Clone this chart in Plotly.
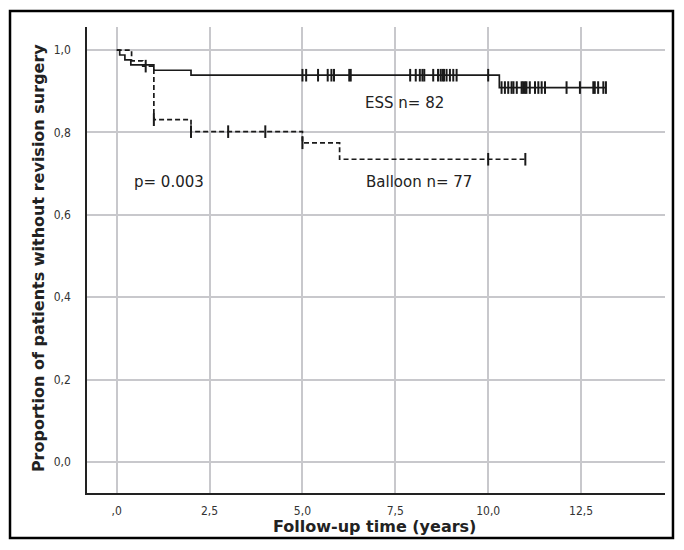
import numpy as np
import plotly.graph_objects as go

# ---- data ----
ess_times = [0, 0.08, 0.22, 0.38, 1.0, 2.0, 10.3, 13.17]
ess_surv = [1.0, 0.988, 0.976, 0.964, 0.951, 0.939, 0.909, 0.909]
ess_censor = [5.0, 5.1, 5.42, 5.68, 5.78, 5.85, 6.26, 6.3, 7.9, 8.05, 8.16, 8.23,
              8.28, 8.52, 8.65, 8.72, 8.77, 8.81, 8.88, 8.97, 9.06, 9.15, 10.0,
              10.36, 10.45, 10.54, 10.63, 10.68, 10.77, 10.9, 10.94, 10.99, 11.03,
              11.12, 11.26, 11.35, 11.44, 11.53, 12.11, 12.47, 12.83, 12.87, 12.96,
              13.1, 13.17]

bal_times = [0, 0.4, 0.7, 1.0, 2.0, 5.0, 6.0, 11.0]
bal_surv = [1.0, 0.974, 0.961, 0.831, 0.802, 0.775, 0.735, 0.735]
bal_censor = [0.78, 1.0, 2.0, 3.0, 4.0, 5.0, 10.0, 11.0]

x_ticks = [0, 2.5, 5, 7.5, 10, 12.5]
x_ticklabels = [",0", "2,5", "5,0", "7,5", "10,0", "12,5"]
y_ticks = [0, 0.2, 0.4, 0.6, 0.8, 1.0]
y_ticklabels = ["0,0", "0,2", "0,4", "0,6", "0,8", "1,0"]


def step_value(times, surv, t):
    idx = np.searchsorted(np.array(times), t, side="right") - 1
    return [surv[i] for i in idx]


LINE_COLOR = "#1a1a1a"
FONT = "DejaVu Sans"
TICKFONT = "DejaVu Sans Condensed, DejaVu Sans"

fig = go.Figure()

fig.add_trace(go.Scatter(x=ess_times, y=ess_surv, mode="lines", line_shape="hv",
                         line=dict(color=LINE_COLOR, width=1.7), showlegend=False,
                         hoverinfo="skip"))
fig.add_trace(go.Scatter(x=ess_censor, y=step_value(ess_times, ess_surv, ess_censor),
                         mode="markers",
                         marker=dict(symbol="line-ns-open", size=9, color=LINE_COLOR,
                                     line=dict(color=LINE_COLOR, width=2)),
                         showlegend=False))

fig.add_trace(go.Scatter(x=bal_times, y=bal_surv, mode="lines", line_shape="hv",
                         line=dict(color=LINE_COLOR, width=1.7, dash="5px,3px"),
                         showlegend=False, hoverinfo="skip"))
fig.add_trace(go.Scatter(x=bal_censor, y=step_value(bal_times, bal_surv, bal_censor),
                         mode="markers",
                         marker=dict(symbol="line-ns-open", size=9, color=LINE_COLOR,
                                     line=dict(color=LINE_COLOR, width=2)),
                         showlegend=False))

grid_color = "#c8c8cc"
fig.update_xaxes(range=[-0.8, 14.76], tickvals=x_ticks, ticktext=x_ticklabels,
                 showgrid=True, gridcolor=grid_color, gridwidth=1.5,
                 showline=True, linecolor="#222", linewidth=1.5, zeroline=False,
                 ticks="", ticklabelstandoff=6,
                 tickfont=dict(family=TICKFONT, size=12, color="#333"))
fig.update_yaxes(range=[-0.075, 1.056], tickvals=y_ticks, ticktext=y_ticklabels,
                 showgrid=True, gridcolor=grid_color, gridwidth=1.5,
                 showline=True, linecolor="#222", linewidth=1.5, zeroline=False,
                 ticks="", ticklabelstandoff=12,
                 tickfont=dict(family=TICKFONT, size=12, color="#333"))

annos = [
    dict(x=7.75, y=0.871, text="ESS n= 82", xref="x", yref="y", showarrow=False,
         font=dict(family=FONT, size=15, color="#222")),
    dict(x=8.13, y=0.68, text="Balloon n= 77", xref="x", yref="y", showarrow=False,
         font=dict(family=FONT, size=15, color="#222")),
    dict(x=1.4, y=0.68, text="p= 0.003", xref="x", yref="y", showarrow=False,
         font=dict(family=FONT, size=15, color="#222")),
    dict(x=0.4966, y=-0.072, text="<b>Follow-up time (years)</b>", xref="paper",
         yref="paper", showarrow=False, yanchor="middle",
         font=dict(family=FONT, size=16, color="#222")),
    dict(x=-0.0848, y=0.504, text="<b>Proportion of patients without revision surgery</b>",
         xref="paper", yref="paper", showarrow=False, textangle=-90,
         xanchor="center", yanchor="middle",
         font=dict(family=FONT, size=16, color="#222")),
]

fig.update_layout(
    width=684, height=550,
    margin=dict(l=87, r=19, t=27, b=57),
    paper_bgcolor="white", plot_bgcolor="white",
    annotations=annos,
    shapes=[dict(type="rect", xref="paper", yref="paper",
                 x0=-0.1332, x1=1.0138, y0=-0.0966, y1=1.0343,
                 line=dict(color="black", width=2.5), fillcolor="rgba(0,0,0,0)")],
)

fig.write_html("out.html", config={"displayModeBar": False},
               post_script="document.body.style.margin='0px';document.body.style.overflow='hidden';")
